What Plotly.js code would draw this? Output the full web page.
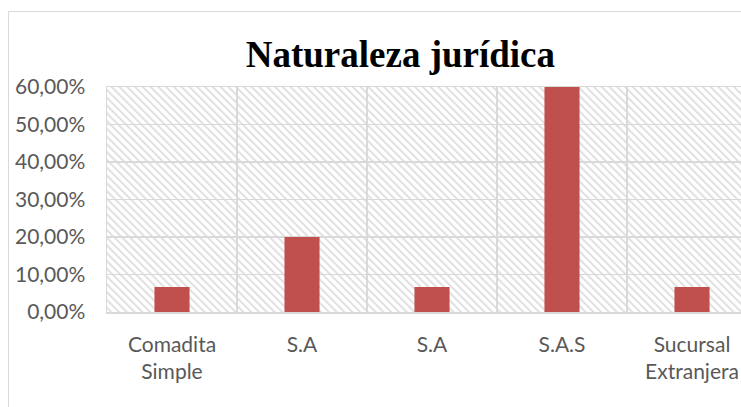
<!DOCTYPE html>
<html>
<head>
<meta charset="utf-8">
<script src="https://cdn.plot.ly/plotly-3.0.1.min.js"></script>
<style>
  html, body { margin: 0; padding: 0; width: 741px; height: 407px; overflow: hidden; background: #fff; }
  #frame { position: absolute; left: 8px; top: 11px; width: 800px; height: 450px; border: 1.5px solid #d9d9d9; box-sizing: border-box; }
  #chart { position: absolute; left: 0; top: 0; }
</style>
</head>
<body>
<div id="frame"></div>
<div id="chart"></div>
<script>
const categories = ["Comadita<br>Simple", "S.A", "S.A", "S.A.S", "Sucursal<br>Extranjera"];
const values = [0.0667, 0.20, 0.0667, 0.60, 0.0667];
const yTicks = [0, 0.1, 0.2, 0.3, 0.4, 0.5, 0.6];
const yTickLabels = ["0,00%", "10,00%", "20,00%", "30,00%", "40,00%", "50,00%", "60,00%"];
const positions = categories.map((c, i) => i);
const boundaries = categories.slice(1).map((c, i) => i + 0.5);

const labelFont = { family: "Lato, 'Open Sans', sans-serif", size: 21, color: "#595959" };

const data = [{
  type: "bar",
  x: positions,
  y: values,
  width: 0.27,
  marker: { color: "#C0504D", line: { width: 0 } },
  hoverinfo: "none"
}];

const layout = {
  width: 770,
  height: 407,
  margin: { l: 107, r: 13, t: 87, b: 95 },
  paper_bgcolor: "rgba(0,0,0,0)",
  plot_bgcolor: "#ffffff",
  showlegend: false,
  title: {
    text: "<b>Naturaleza jurídica</b>",
    font: { family: "'Liberation Serif', 'Times New Roman', serif", size: 37, color: "#000000" },
    x: 0.52, xref: "container", xanchor: "center",
    y: 0.835, yref: "container", yanchor: "bottom"
  },
  xaxis: {
    range: [-0.5, 4.5],
    tickvals: positions,
    ticktext: categories,
    tickfont: labelFont,
    ticks: "outside", ticklen: 13, tickcolor: "rgba(0,0,0,0)",
    showgrid: false,
    zeroline: false,
    showline: true, mirror: true, linecolor: "#d9d9d9", linewidth: 1.5,
    minor: { tickvals: boundaries, showgrid: true, gridcolor: "#d9d9d9", gridwidth: 1.5, ticks: "" },
    fixedrange: true
  },
  yaxis: {
    range: [0, 0.6],
    tickvals: yTicks,
    ticktext: yTickLabels,
    tickfont: labelFont,
    ticks: "outside", ticklen: 16, tickcolor: "rgba(0,0,0,0)",
    showgrid: true, gridcolor: "#d9d9d9", gridwidth: 1.5,
    zeroline: false,
    showline: true, mirror: true, linecolor: "#d9d9d9", linewidth: 1.5,
    fixedrange: true
  }
};

Plotly.newPlot("chart", data, layout, { staticPlot: true, displayModeBar: false }).then(function (gd) {
  const svg = gd.querySelector("svg.main-svg");
  const ns = "http://www.w3.org/2000/svg";
  let defs = svg.querySelector("defs");
  if (!defs) { defs = document.createElementNS(ns, "defs"); svg.insertBefore(defs, svg.firstChild); }
  const pat = document.createElementNS(ns, "pattern");
  pat.setAttribute("id", "hatchBg");
  pat.setAttribute("patternUnits", "userSpaceOnUse");
  pat.setAttribute("width", "5.5");
  pat.setAttribute("height", "5.5");
  pat.setAttribute("patternTransform", "rotate(-45)");
  const bgr = document.createElementNS(ns, "rect");
  bgr.setAttribute("width", "5.5"); bgr.setAttribute("height", "5.5"); bgr.setAttribute("fill", "#ffffff");
  const stripe = document.createElementNS(ns, "rect");
  stripe.setAttribute("width", "2"); stripe.setAttribute("height", "5.5"); stripe.setAttribute("fill", "#e0e0e0");
  pat.appendChild(bgr); pat.appendChild(stripe);
  defs.appendChild(pat);
  gd.querySelectorAll("rect.bg").forEach(function (r) { r.style.fill = "url(#hatchBg)"; });
});
</script>
</body>
</html>
